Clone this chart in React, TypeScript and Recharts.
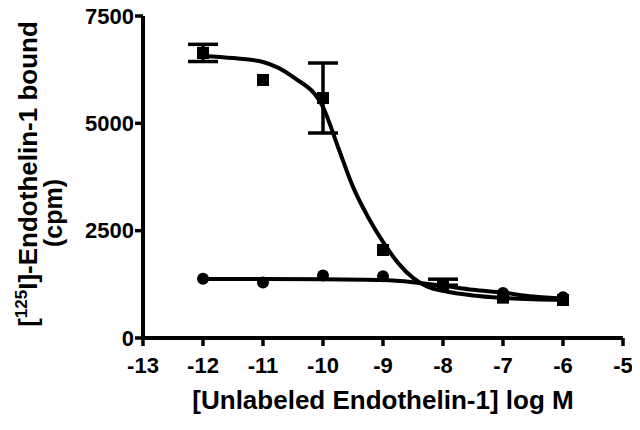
import React from 'react';
import { ComposedChart, Line, Scatter, XAxis, YAxis, ErrorBar } from 'recharts';

const xTicks = [-13, -12, -11, -10, -9, -8, -7, -6, -5];
const yTicks = [0, 2500, 5000, 7500];

// Measured points (squares)
const squareX = [-12, -11, -10, -9, -8, -7, -6];
const squareY = [6640, 6010, 5590, 2050, 1230, 940, 885];

// Error bars that are visible on the square points: [down, up]
const errX = [-12, -10, -8];
const errY = [6640, 5590, 1230];
const errVal = [[200, 200], [815, 815], [0, 140]];

// Measured points (circles)
const circleX = [-12, -11, -10, -9, -8, -7, -6];
const circleY = [1380, 1295, 1455, 1440, 1200, 1050, 950];

// Fitted curve (squares)
const squareCurveX = [-12, -11.5, -11, -10.5, -10, -9.75, -9.5, -9.25, -9, -8.75, -8.5, -8.25, -8, -7.5, -7, -6.5, -6];
const squareCurveY = [6570, 6520, 6430, 6080, 5380, 4450, 3520, 2820, 2240, 1750, 1400, 1190, 1100, 990, 935, 905, 890];

// Fitted curve (circles)
const circleCurveX = [-12, -11, -10, -9, -8.5, -8, -7.5, -7, -6.5, -6];
const circleCurveY = [1375, 1375, 1370, 1350, 1300, 1215, 1125, 1055, 965, 920];

const squares = squareX.map((x, i) => ({ x, y: squareY[i] }));
const errPoints = errX.map((x, i) => ({ x, y: errY[i], err: errVal[i] }));
const circles = circleX.map((x, i) => ({ x, y: circleY[i] }));
const squareCurve = squareCurveX.map((x, i) => ({ x, y: squareCurveY[i] }));
const circleCurve = circleCurveX.map((x, i) => ({ x, y: circleCurveY[i] }));

const FONT = '"Liberation Sans", Arial, Helvetica, sans-serif';

const SquareShape = (props: any) => {
  const { cx, cy } = props;
  if (cx == null || cy == null) return null;
  return <rect x={cx - 6} y={cy - 6} width={12} height={12} fill="#000" />;
};

const CircleShape = (props: any) => {
  const { cx, cy } = props;
  if (cx == null || cy == null) return null;
  return <circle cx={cx} cy={cy} r={6} fill="#000" />;
};

const YLabel = () => {
  const cy1 = 174;
  const cy2 = 213;
  const x1 = 37;
  const x2 = 62;
  return (
    <g>
      <text
        x={x1}
        y={cy1}
        transform={`rotate(-90 ${x1} ${cy1})`}
        textAnchor="middle"
        fontFamily={FONT}
        fontWeight="bold"
        fontSize={26}
        fill="#000"
      >
        [<tspan fontSize={17} dy={-10}>125</tspan>
        <tspan dy={10}>I]-Endothelin-1 bound</tspan>
      </text>
      <text
        x={x2}
        y={cy2}
        transform={`rotate(-90 ${x2} ${cy2})`}
        textAnchor="middle"
        fontFamily={FONT}
        fontWeight="bold"
        fontSize={25}
        fill="#000"
      >
        (cpm)
      </text>
    </g>
  );
};

const XLabel = (props: any) => {
  const vb = props.viewBox || { x: 143, y: 338, width: 480, height: 70 };
  return (
    <text
      x={vb.x + vb.width / 2}
      y={vb.y + 71}
      textAnchor="middle"
      fontFamily={FONT}
      fontWeight="bold"
      fontSize={26}
      fill="#000"
    >
      [Unlabeled Endothelin-1] log M
    </text>
  );
};

const tickStyle = { fontFamily: FONT, fontWeight: 'bold' as const, fontSize: 22, fill: '#000' };

export default function App() {
  return (
    <div style={{ width: 632, height: 422, marginTop: -8, marginLeft: -8, background: '#fff' }}>
      <ComposedChart width={632} height={422} margin={{ top: 16, right: 9, bottom: 14, left: 8 }}>
        <XAxis
          type="number"
          dataKey="x"
          domain={[-13, -5]}
          ticks={xTicks}
          interval={0}
          allowDataOverflow
          height={70}
          tickSize={8}
          tickMargin={11}
          tick={tickStyle}
          axisLine={{ stroke: '#000', strokeWidth: 4 }}
          tickLine={{ stroke: '#000', strokeWidth: 3.5 }}
          label={<XLabel />}
        />
        <YAxis
          type="number"
          dataKey="y"
          domain={[0, 7500]}
          ticks={yTicks}
          interval={0}
          allowDataOverflow
          width={135}
          tickSize={8}
          tickMargin={1}
          tick={tickStyle}
          axisLine={{ stroke: '#000', strokeWidth: 4 }}
          tickLine={{ stroke: '#000', strokeWidth: 3.5 }}
          label={<YLabel />}
        />
        <Line
          data={squareCurve}
          dataKey="y"
          type="monotone"
          stroke="#000"
          strokeWidth={4}
          dot={false}
          activeDot={false}
          isAnimationActive={false}
        />
        <Line
          data={circleCurve}
          dataKey="y"
          type="monotone"
          stroke="#000"
          strokeWidth={4}
          dot={false}
          activeDot={false}
          isAnimationActive={false}
        />
        <Scatter data={errPoints} dataKey="y" shape={<SquareShape />} isAnimationActive={false}>
          <ErrorBar dataKey="err" direction="y" width={15} stroke="#000" strokeWidth={3.5} isAnimationActive={false} />
        </Scatter>
        <Scatter data={squares} dataKey="y" shape={<SquareShape />} isAnimationActive={false} />
        <Scatter data={circles} dataKey="y" shape={<CircleShape />} isAnimationActive={false} />
      </ComposedChart>
    </div>
  );
}
